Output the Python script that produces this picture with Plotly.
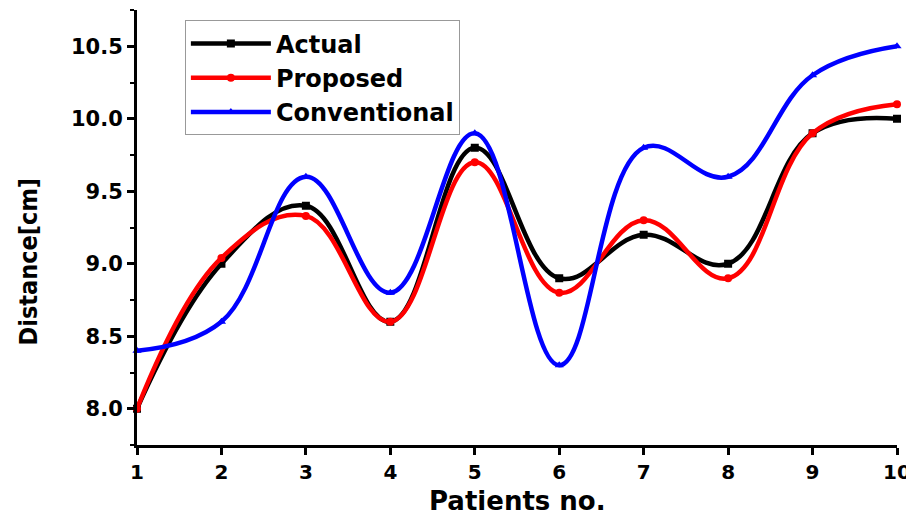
import plotly.graph_objects as go

patients = [1, 2, 3, 4, 5, 6, 7, 8, 9, 10]
actual = [8.0, 9.0, 9.4, 8.6, 9.8, 8.9, 9.2, 9.0, 9.9, 10.0]
proposed = [8.0, 9.04, 9.33, 8.6, 9.7, 8.8, 9.3, 8.9, 9.9, 10.1]
conventional = [8.4, 8.6, 9.6, 8.8, 9.9, 8.3, 9.8, 9.6, 10.3, 10.5]

y_ticks = [8.0, 8.5, 9.0, 9.5, 10.0, 10.5]
x_ticks = patients

fig = go.Figure()
series = [
    ("Actual", actual, "black", "square"),
    ("Proposed", proposed, "red", "circle"),
    ("Conventional", conventional, "blue", "triangle-up"),
]
for name, ys, col, sym in series:
    fig.add_trace(go.Scatter(
        x=patients, y=ys, name=name, mode="lines+markers",
        line=dict(color=col, width=4.5, shape="spline", smoothing=1.15),
        marker=dict(symbol=sym, size=8, color=col),
        cliponaxis=False,
    ))

fb = "DejaVu Sans"
fig.update_layout(
    width=914, height=517,
    margin=dict(l=129, r=25, t=2, b=80, autoexpand=False),
    paper_bgcolor="white", plot_bgcolor="white",
    showlegend=True,
    legend=dict(
        x=0.063, y=0.976, xanchor="left", yanchor="top",
        bordercolor="#999999", borderwidth=1, bgcolor="rgba(255,255,255,0)",
        font=dict(family=fb, size=24, color="black", weight="bold"),
        tracegroupgap=0, itemwidth=80,
    ),
    xaxis=dict(
        range=[1, 10], tickvals=x_ticks, ticktext=[str(v) for v in x_ticks],
        showline=True, linecolor="black", linewidth=3,
        ticks="outside", ticklen=7, tickwidth=3, tickcolor="black",
        showgrid=False, zeroline=False, automargin=False,
        tickfont=dict(family=fb, size=20, color="black", weight="bold"),
    ),
    yaxis=dict(
        range=[7.75, 10.75], tickvals=y_ticks, ticktext=[f"{v:.1f}" for v in y_ticks],
        showline=True, linecolor="black", linewidth=3,
        ticks="outside", ticklen=7, tickwidth=3, tickcolor="black",
        minor=dict(dtick=0.25, ticks="outside", ticklen=4, tickwidth=2, tickcolor="black", showgrid=False),
        showgrid=False, zeroline=False, automargin=False,
        tickfont=dict(family=fb, size=21, color="black", weight="bold"),
    ),
    annotations=[
        dict(text="Patients no.", xref="paper", yref="paper", x=0.5, y=0,
             xanchor="center", yanchor="middle", yshift=-56, showarrow=False,
             font=dict(family=fb, size=26, color="black", weight="bold")),
        dict(text="Distance[cm]", xref="paper", yref="paper", x=0, y=0.5,
             xanchor="center", yanchor="middle", xshift=-109, yshift=-34,
             textangle=-90, showarrow=False,
             font=dict(family="Liberation Sans Narrow, DejaVu Sans Condensed", size=25,
                       color="black", weight="bold")),
    ],
)

fig.write_html("out.html")
